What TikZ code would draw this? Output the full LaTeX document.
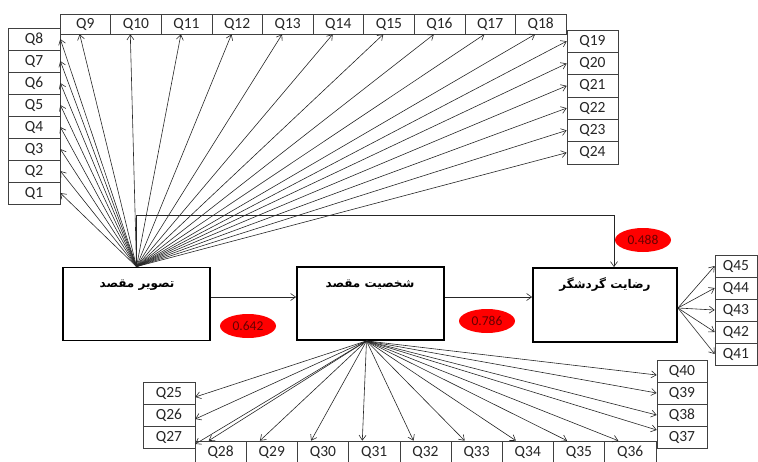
\documentclass[tikz,border=0pt]{standalone}
\usepackage{fontspec}
\setmainfont{Carlito}
\newfontfamily\arabicfont[Script=Arabic]{DejaVu Sans}
\TeXXeTstate=1
\usetikzlibrary{arrows.meta,shapes.geometric}
\begin{document}
\begin{tikzpicture}[x=1pt,y=-1pt,
  cell/.style={draw=black!75,line width=0.6pt,minimum height=22pt,inner sep=0pt,text=black!85,font=\fontsize{15.5}{15.5}\selectfont},
  mainbox/.style={draw=black,line width=1.8pt,minimum width=147pt,minimum height=73pt,inner sep=0pt},
  boxlabel/.style={font=\arabicfont\fontsize{12}{12}\selectfont\bfseries},
  arr/.style={draw=black!85,line width=0.6pt,-{Straight Barb[length=5pt,width=7pt]}},
  coef/.style={ellipse,fill=red,draw=none,minimum width=56pt,minimum height=24pt,inner sep=0pt,text=red!40!black,font=\fontsize{13.5}{13.5}\selectfont}]
\useasboundingbox (0,0) rectangle (758,461);
% main boxes
\node[mainbox] (b1) at (136.5,304) {};
\node[mainbox] (b2) at (370.5,303.5) {};
\node[mainbox,minimum width=144pt,minimum height=74pt] (b3) at (605,305) {};
\node[boxlabel] (t1) at (137,285) {\beginR تصویر مقصد\endR};
\node[boxlabel] (t2) at (370,285) {\beginR شخصیت مقصد\endR};
\node[boxlabel] (t3) at (605,285) {\beginR رضایت گردشگر\endR};
% coefficient ellipses
\node[coef] (e1) at (248,326) {0.642};
\node[coef] (e2) at (487,321) {0.786};
\node[coef] (e3) at (643,240) {0.488};
% top row Q9..Q18
\foreach \i [count=\k from 0] in {9,...,18}
  \node[cell,minimum width=50.6pt,minimum height=20pt] (q\i) at ({60+50.6*\k+25.3},24) {Q\i};
% left column Q8..Q1
\foreach \i [count=\k from 0] in {8,7,...,1}
  \node[cell,minimum width=52pt] (q\i) at (34,{39+22*\k}) {Q\i};
% right column Q19..Q24
\foreach \i [count=\k from 0] in {19,...,24}
  \node[cell,minimum width=51pt,minimum height=22.3pt] (q\i) at (592.5,{41.2+22.3*\k}) {Q\i};
% bottom-left column Q25..Q27
\foreach \i [count=\k from 0] in {25,26,27}
  \node[cell,minimum width=52pt] (q\i) at (169,{393+22*\k}) {Q\i};
% bottom row Q28..Q36
\foreach \i [count=\k from 0] in {28,...,36}
  \node[cell,minimum width=51.2pt] (q\i) at ({195+51.2*\k+25.6},452) {Q\i};
% bottom-right column Q40..Q37
\foreach \i [count=\k from 0] in {40,39,38,37}
  \node[cell,minimum width=50pt] (q\i) at (682,{371+22*\k}) {Q\i};
% right column Q45..Q41
\foreach \i [count=\k from 0] in {45,44,...,41}
  \node[cell,minimum width=42pt] (q\i) at (736,{266+22*\k}) {Q\i};
% hubs
\coordinate (h1) at (b1.north);
\coordinate (h2) at ([xshift=-4pt]b2.south);
\coordinate (h3) at ([yshift=-3pt]b3.east);
% fan from box 1
\foreach \i in {1,...,8} \draw[arr] (h1) -- (q\i.east);
\foreach \i in {9,...,18} \draw[arr] (h1) -- ([xshift=20pt]q\i.south west);
\foreach \i in {19,...,24} \draw[arr] (h1) -- (q\i.west);
% fan from box 2
\draw[arr] (h2) -- ([yshift=-4pt]q25.east);
\draw[arr] (h2) -- ([yshift=-4pt]q26.east);
\draw[arr] (h2) -- ([yshift=-7pt]q27.east);
\foreach \i in {28,...,36} \draw[arr] (h2) -- ([xshift=14pt]q\i.north west);
\draw[arr] (h2) -- ([yshift=-4pt]q40.west);
\draw[arr] (h2) -- (q39.west);
\draw[arr] (h2) -- (q38.west);
\draw[arr] (h2) -- ([yshift=7pt]q37.west);
% fan from box 3
\foreach \i in {41,...,45} \draw[arr] (h3) -- (q\i.west);
% paths between main boxes
\draw[arr] ([yshift=7pt]b1.east) -- ([yshift=6.5pt]b2.west);
\draw[arr] ([yshift=6.5pt]b2.east) -- ([yshift=8pt]b3.west);
\coordinate (fb) at (614,215);
\draw[arr] (h1) |- (fb) -- (fb |- b3.north);
\end{tikzpicture}
\end{document}
